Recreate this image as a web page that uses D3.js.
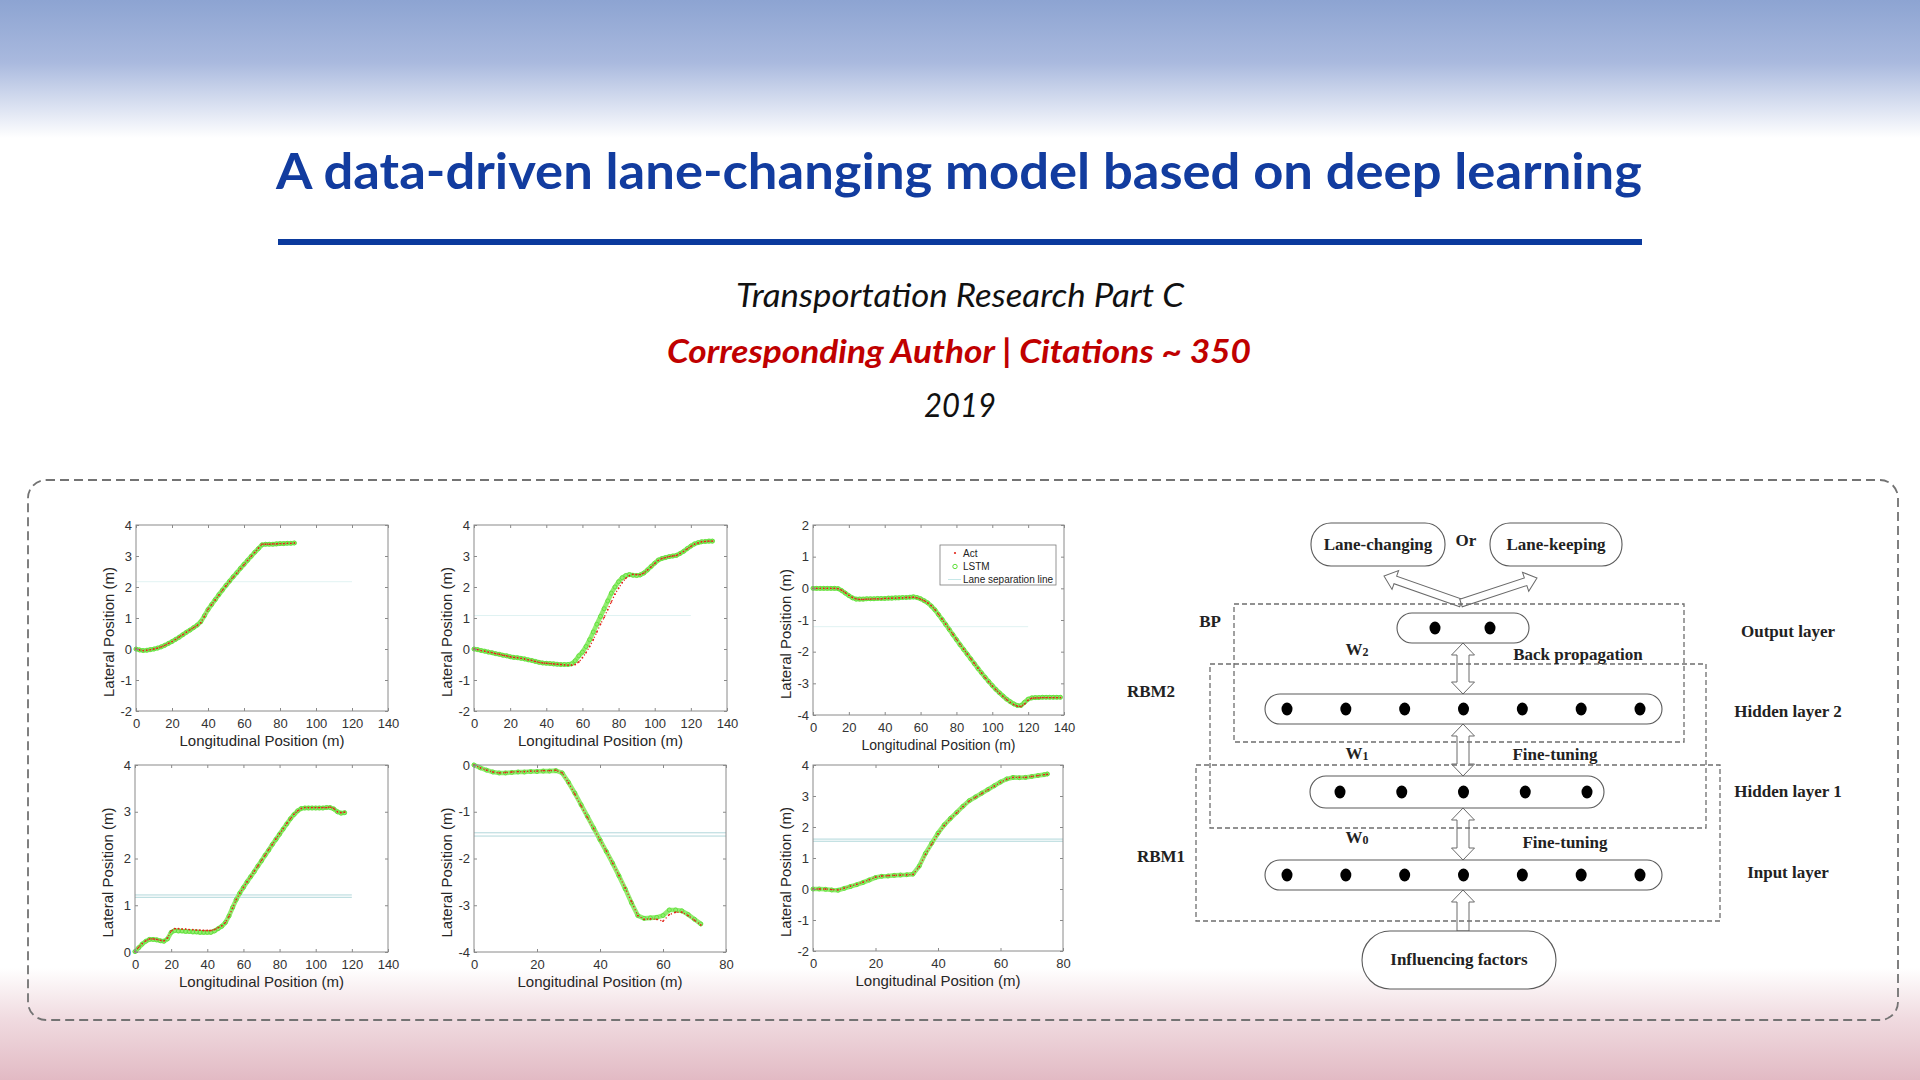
<!DOCTYPE html>
<html><head><meta charset="utf-8">
<script src="https://cdn.jsdelivr.net/npm/d3@7"></script>
<style>body{margin:0;background:#fff}svg{display:block}</style>
</head><body>
<svg id="c" width="1920" height="1080"></svg>
<script>
// ---------------- DATA ----------------
const titleText = "A data-driven lane-changing model based on deep learning";
const journalText = "Transportation Research Part C";
const roleText = "Corresponding Author | Citations ~ 350";
const yearText = "2019";

// Plot 1
const p1x = [0,2,4,6,8,10,12,14,16,18,20,22,24,26,28,30,32,34,36,38,40,42,44,46,48,50,52,54,56,58,60,62,64,66,68,70,72,74,76,78,80,82,84,86,88];
const p1act = [0,-0.03,-0.05,-0.04,-0.02,0,0.03,0.07,0.12,0.18,0.24,0.31,0.39,0.46,0.54,0.62,0.69,0.76,0.85,1.05,1.28,1.43,1.58,1.74,1.9,2.04,2.18,2.32,2.45,2.59,2.72,2.86,2.99,3.12,3.25,3.38,3.38,3.38,3.39,3.39,3.4,3.4,3.41,3.41,3.42];
const p1lstm = [0,-0.03,-0.05,-0.04,-0.02,0,0.03,0.07,0.12,0.18,0.24,0.31,0.38,0.46,0.54,0.61,0.69,0.77,0.88,1.07,1.27,1.43,1.59,1.75,1.9,2.05,2.19,2.33,2.46,2.6,2.73,2.86,2.99,3.12,3.24,3.36,3.38,3.38,3.38,3.39,3.4,3.4,3.41,3.41,3.42];
const p1lane = [2.17];

// Plot 2
const p2x = [0,2,4,6,8,10,12,14,16,18,20,22,24,26,28,30,32,34,36,38,40,42,44,46,48,50,52,54,56,58,60,62,64,66,68,70,72,74,76,78,80,82,84,86,88,90,92,94,96,98,100,102,104,106,108,110,112,114,116,118,120,122,124,126,128,130,132];
const p2act = [0,-0.02,-0.05,-0.07,-0.1,-0.12,-0.15,-0.17,-0.2,-0.22,-0.25,-0.27,-0.28,-0.3,-0.32,-0.35,-0.37,-0.4,-0.43,-0.45,-0.46,-0.47,-0.48,-0.49,-0.5,-0.51,-0.52,-0.52,-0.5,-0.42,-0.28,-0.12,0.08,0.3,0.55,0.8,1.02,1.27,1.52,1.77,1.96,2.14,2.28,2.37,2.41,2.4,2.4,2.45,2.55,2.65,2.76,2.86,2.92,2.95,2.98,3.0,3.02,3.08,3.15,3.23,3.31,3.38,3.42,3.46,3.47,3.48,3.48];
const p2lstm = [0,-0.02,-0.05,-0.07,-0.1,-0.12,-0.15,-0.17,-0.2,-0.22,-0.25,-0.27,-0.28,-0.3,-0.32,-0.35,-0.37,-0.4,-0.43,-0.45,-0.46,-0.47,-0.48,-0.49,-0.5,-0.5,-0.5,-0.48,-0.38,-0.22,-0.1,0.08,0.3,0.55,0.8,1.05,1.3,1.55,1.8,2.0,2.17,2.3,2.37,2.4,2.38,2.37,2.39,2.45,2.55,2.66,2.77,2.87,2.92,2.95,2.98,3.0,3.02,3.08,3.15,3.24,3.32,3.39,3.43,3.46,3.47,3.48,3.48];
const p2lane = [1.08];

// Plot 3
const p3x = [0,2,4,6,8,10,12,14,16,18,20,22,24,26,28,30,32,34,36,38,40,42,44,46,48,50,52,54,56,58,60,62,64,66,68,70,72,74,76,78,80,82,84,86,88,90,92,94,96,98,100,102,104,106,108,110,112,114,116,118,120,122,124,126,128,130,132,134,136,138];
const p3act = [0,0,0,0,0,0,0,-0.01,-0.06,-0.14,-0.22,-0.29,-0.33,-0.35,-0.35,-0.34,-0.34,-0.33,-0.33,-0.33,-0.32,-0.32,-0.31,-0.31,-0.3,-0.3,-0.29,-0.29,-0.28,-0.3,-0.34,-0.39,-0.46,-0.55,-0.67,-0.82,-0.97,-1.13,-1.29,-1.45,-1.61,-1.77,-1.92,-2.07,-2.22,-2.37,-2.52,-2.67,-2.82,-2.95,-3.08,-3.2,-3.31,-3.41,-3.51,-3.6,-3.67,-3.72,-3.73,-3.65,-3.53,-3.47,-3.46,-3.46,-3.45,-3.45,-3.45,-3.45,-3.45,-3.45];
const p3lstm = [0,0,0,0,0,0,0,-0.01,-0.07,-0.15,-0.23,-0.3,-0.34,-0.34,-0.34,-0.33,-0.33,-0.33,-0.32,-0.32,-0.32,-0.31,-0.31,-0.3,-0.3,-0.29,-0.29,-0.28,-0.27,-0.29,-0.33,-0.39,-0.46,-0.56,-0.68,-0.83,-0.98,-1.14,-1.3,-1.46,-1.62,-1.78,-1.93,-2.08,-2.23,-2.38,-2.53,-2.67,-2.81,-2.94,-3.07,-3.19,-3.3,-3.4,-3.5,-3.58,-3.65,-3.7,-3.7,-3.6,-3.5,-3.46,-3.45,-3.45,-3.44,-3.44,-3.44,-3.44,-3.44,-3.44];
const p3lane = [-1.21];

// Plot 4
const p4x = [0,2,4,6,8,10,12,14,16,18,20,22,24,26,28,30,32,34,36,38,40,42,44,46,48,50,52,54,56,58,60,62,64,66,68,70,72,74,76,78,80,82,84,86,88,90,92,94,96,98,100,102,104,106,108,110,112,114,116];
const p4act = [0.01,0.1,0.18,0.24,0.28,0.28,0.27,0.25,0.24,0.3,0.45,0.5,0.5,0.49,0.49,0.48,0.48,0.47,0.47,0.46,0.46,0.46,0.48,0.52,0.56,0.63,0.76,0.94,1.12,1.26,1.38,1.5,1.61,1.73,1.84,1.96,2.07,2.19,2.3,2.42,2.53,2.64,2.75,2.85,2.95,3.02,3.07,3.09,3.09,3.09,3.09,3.09,3.09,3.09,3.1,3.07,3.0,2.98,2.99];
const p4lstm = [0.01,0.09,0.17,0.23,0.27,0.27,0.26,0.24,0.23,0.28,0.42,0.46,0.45,0.45,0.44,0.44,0.43,0.43,0.42,0.42,0.42,0.42,0.45,0.5,0.55,0.63,0.77,0.95,1.12,1.26,1.38,1.5,1.61,1.72,1.84,1.95,2.07,2.18,2.3,2.41,2.52,2.63,2.74,2.85,2.94,3.02,3.07,3.08,3.08,3.08,3.08,3.08,3.08,3.09,3.09,3.06,3.0,2.97,2.98];
const p4lane = [1.22, 1.17];

// Plot 5
const p5x = [0,2,4,6,8,10,12,14,16,18,20,22,24,26,28,30,32,34,36,38,40,42,44,46,48,50,52,54,56,58,60,62,64,66,68,70,72];
const p5act = [0,-0.06,-0.11,-0.15,-0.17,-0.16,-0.15,-0.14,-0.14,-0.13,-0.13,-0.12,-0.12,-0.11,-0.17,-0.38,-0.62,-0.87,-1.12,-1.36,-1.6,-1.84,-2.1,-2.36,-2.63,-2.92,-3.22,-3.3,-3.29,-3.3,-3.34,-3.2,-3.15,-3.15,-3.22,-3.32,-3.42];
const p5lstm = [0,-0.06,-0.11,-0.15,-0.17,-0.17,-0.16,-0.15,-0.15,-0.14,-0.14,-0.13,-0.13,-0.12,-0.17,-0.37,-0.6,-0.85,-1.1,-1.35,-1.6,-1.85,-2.1,-2.37,-2.65,-2.95,-3.22,-3.28,-3.27,-3.26,-3.22,-3.1,-3.1,-3.12,-3.2,-3.3,-3.4];
const p5lane = [-1.45, -1.52];

// Plot 6
const p6x = [0,2,4,6,8,10,12,14,16,18,20,22,24,26,28,30,32,34,36,38,40,42,44,46,48,50,52,54,56,58,60,62,64,66,68,70,72,74,75];
const p6act = [0,0,0,-0.02,-0.03,0.03,0.09,0.15,0.22,0.3,0.38,0.42,0.43,0.44,0.45,0.46,0.47,0.72,1.12,1.45,1.78,2.05,2.27,2.46,2.66,2.84,2.96,3.08,3.2,3.32,3.44,3.54,3.6,3.6,3.6,3.63,3.66,3.69,3.7];
const p6lstm = [0,0,-0.01,-0.03,-0.04,0.02,0.08,0.14,0.21,0.29,0.37,0.41,0.42,0.44,0.45,0.46,0.48,0.74,1.15,1.48,1.8,2.07,2.28,2.47,2.67,2.85,2.97,3.09,3.21,3.33,3.45,3.55,3.6,3.59,3.6,3.63,3.66,3.69,3.71];
const p6lane = [1.61, 1.54];

const ticks140 = [0,20,40,60,80,100,120,140];
const ticks80 = [0,20,40,60,80];
const ticksYm2to4 = [-2,-1,0,1,2,3,4];
const ticksYm4to2 = [-4,-3,-2,-1,0,1,2];
const ticksY0to4 = [0,1,2,3,4];
const ticksYm4to0 = [-4,-3,-2,-1,0];

const legendLabels = ["Act", "LSTM", "Lane separation line"];
const xLabel = "Longitudinal Position (m)";
const yLabel = "Lateral Position (m)";

// Network diagram
const outputChoices = ["Lane-changing", "Lane-keeping"];
const layerNames = ["Output layer", "Hidden layer 2", "Hidden layer 1", "Input layer"];
const layerNodes = [2, 7, 5, 7];
const groupNames = ["BP", "RBM2", "RBM1"];
const weightNames = [["W","2"], ["W","1"], ["W","0"]];
const trainNames = ["Back propagation", "Fine-tuning", "Fine-tuning"];
const inputName = "Influencing factors";

// ---------------- DRAW ----------------
const svg = d3.select("#c");
const defs = svg.append("defs");
const gTop = defs.append("linearGradient").attr("id","gTop").attr("x1",0).attr("y1",0).attr("x2",0).attr("y2",1);
gTop.append("stop").attr("offset","0").attr("stop-color","#8da4d2");
gTop.append("stop").attr("offset","0.45").attr("stop-color","#a9b9de");
gTop.append("stop").attr("offset","0.8").attr("stop-color","#dfe5f3");
gTop.append("stop").attr("offset","1").attr("stop-color","#ffffff");
const gBot = defs.append("linearGradient").attr("id","gBot").attr("x1",0).attr("y1",0).attr("x2",0).attr("y2",1);
gBot.append("stop").attr("offset","0").attr("stop-color","#ffffff");
gBot.append("stop").attr("offset","0.45").attr("stop-color","#f0dbe0");
gBot.append("stop").attr("offset","1").attr("stop-color","#e2bac4");

svg.append("rect").attr("x",0).attr("y",0).attr("width",1920).attr("height",1080).attr("fill","#fff");
svg.append("rect").attr("x",0).attr("y",0).attr("width",1920).attr("height",138).attr("fill","url(#gTop)");
svg.append("rect").attr("x",0).attr("y",968).attr("width",1920).attr("height",112).attr("fill","url(#gBot)");

// Header texts
svg.append("text").attr("x",959).attr("y",189).attr("text-anchor","middle")
  .attr("font-family","Lato, 'Open Sans', sans-serif").attr("font-weight","bold").attr("font-size",50)
  .attr("fill","#123c9f").attr("textLength",1366).attr("lengthAdjust","spacingAndGlyphs").text(titleText);
svg.append("rect").attr("x",278).attr("y",239).attr("width",1364).attr("height",6).attr("fill","#0b3a9d");
svg.append("text").attr("x",960).attr("y",307).attr("text-anchor","middle")
  .attr("font-family","Lato, sans-serif").attr("font-style","italic").attr("font-size",32)
  .attr("fill","#111").attr("textLength",448).attr("lengthAdjust","spacingAndGlyphs").text(journalText);
svg.append("text").attr("x",959).attr("y",363).attr("text-anchor","middle")
  .attr("font-family","Lato, sans-serif").attr("font-style","italic").attr("font-weight","bold").attr("font-size",32)
  .attr("fill","#c00000").attr("textLength",584).attr("lengthAdjust","spacingAndGlyphs").text(roleText);
svg.append("text").attr("x",960).attr("y",417).attr("text-anchor","middle")
  .attr("font-family","Lato, sans-serif").attr("font-style","italic").attr("font-size",32)
  .attr("fill","#111").attr("textLength",72).attr("lengthAdjust","spacingAndGlyphs").text(yearText);

// Dashed frame
svg.append("rect").attr("x",28).attr("y",480).attr("width",1870).attr("height",540).attr("rx",18)
  .attr("fill","none").attr("stroke","#737373").attr("stroke-width",1.8).attr("stroke-dasharray","9 5");

// ---------- Plots ----------
const plots = [
  {x0:136,x1:388,y0:525,y1:711,xd:[0,140],yd:[-2,4],xt:ticks140,yt:ticksYm2to4,xs:p1x,act:p1act,lstm:p1lstm,lane:p1lane,laneEnd:120,xl:15,laneC:"#dcf1f1"},
  {x0:474,x1:727,y0:525,y1:711,xd:[0,140],yd:[-2,4],xt:ticks140,yt:ticksYm2to4,xs:p2x,act:p2act,lstm:p2lstm,lane:p2lane,laneEnd:120,xl:15,laneC:"#dcf1f1"},
  {x0:813,x1:1064,y0:525,y1:715,xd:[0,140],yd:[-4,2],xt:ticks140,yt:ticksYm4to2,xs:p3x,act:p3act,lstm:p3lstm,lane:p3lane,laneEnd:120,xl:14,legend:true,laneC:"#dcf1f1"},
  {x0:135,x1:388,y0:765,y1:952,xd:[0,140],yd:[0,4],xt:ticks140,yt:ticksY0to4,xs:p4x,act:p4act,lstm:p4lstm,lane:p4lane,laneEnd:120,xl:15,laneC:"#a8d3d6"},
  {x0:474,x1:726,y0:765,y1:952,xd:[0,80],yd:[-4,0],xt:ticks80,yt:ticksYm4to0,xs:p5x,act:p5act,lstm:p5lstm,lane:p5lane,laneEnd:80,xl:15,laneC:"#a8d3d6"},
  {x0:813,x1:1063,y0:765,y1:951,xd:[0,80],yd:[-2,4],xt:ticks80,yt:ticksYm2to4,xs:p6x,act:p6act,lstm:p6lstm,lane:p6lane,laneEnd:80,xl:15,laneC:"#a8d3d6"}
];

const tickFont = "'Liberation Sans', Arial, sans-serif";
const actColor = "#e2261b", lstmColor = "#5ee03a", lstmBand = "#92ec6f";

plots.forEach(cfg => {
  const g = svg.append("g");
  const x = d3.scaleLinear().domain(cfg.xd).range([cfg.x0, cfg.x1]);
  const y = d3.scaleLinear().domain(cfg.yd).range([cfg.y1, cfg.y0]);
  // lane separation lines
  cfg.lane.forEach(v => {
    g.append("line").attr("x1",x(0)).attr("x2",x(cfg.laneEnd)).attr("y1",y(v)).attr("y2",y(v))
      .attr("stroke",cfg.laneC).attr("stroke-width",0.9);
  });
  const lstmPts = cfg.xs.map((xv,i)=>[xv,cfg.lstm[i]]);
  const actPts = cfg.xs.map((xv,i)=>[xv,cfg.act[i]]);
  const line = d3.line().x(d=>x(d[0])).y(d=>y(d[1]));
  g.append("path").datum(lstmPts).attr("d",line).attr("fill","none")
    .attr("stroke",lstmBand).attr("stroke-width",4.6).attr("stroke-linejoin","round").attr("stroke-linecap","round");
  g.selectAll("circle.l").data(lstmPts).join("circle").attr("class","l")
    .attr("cx",d=>x(d[0])).attr("cy",d=>y(d[1])).attr("r",2)
    .attr("fill","none").attr("stroke",lstmColor).attr("stroke-width",0.9);
  g.append("path").datum(actPts).attr("d",line).attr("fill","none")
    .attr("stroke",actColor).attr("stroke-width",1.3).attr("stroke-dasharray","1.2 2.2");
  g.selectAll("circle.a").data(actPts).join("circle").attr("class","a")
    .attr("cx",d=>x(d[0])).attr("cy",d=>y(d[1])).attr("r",0.9).attr("fill",actColor);

  // axes with inward ticks
  const fmt = d => String(d);
  const ax = [
    g.append("g").attr("transform",`translate(0,${cfg.y1})`).call(d3.axisBottom(x).tickValues(cfg.xt).tickSizeInner(-3).tickSizeOuter(0).tickPadding(8).tickFormat(fmt)),
    g.append("g").attr("transform",`translate(${cfg.x0},0)`).call(d3.axisLeft(y).tickValues(cfg.yt).tickSizeInner(-3).tickSizeOuter(0).tickPadding(4).tickFormat(fmt)),
    g.append("g").attr("transform",`translate(0,${cfg.y0})`).call(d3.axisTop(x).tickValues(cfg.xt).tickSizeInner(-3).tickSizeOuter(0).tickFormat("")),
    g.append("g").attr("transform",`translate(${cfg.x1},0)`).call(d3.axisRight(y).tickValues(cfg.yt).tickSizeInner(-3).tickSizeOuter(0).tickFormat(""))
  ];
  ax.forEach(a => {
    a.select(".domain").remove();
    a.selectAll("line").attr("stroke","#8a8a8a");
    a.selectAll("text").attr("font-family",tickFont).attr("font-size",13).attr("fill","#333");
  });
  g.append("rect").attr("x",cfg.x0).attr("y",cfg.y0).attr("width",cfg.x1-cfg.x0).attr("height",cfg.y1-cfg.y0)
    .attr("fill","none").attr("stroke","#8a8a8a").attr("stroke-width",1);
  // axis labels
  g.append("text").attr("x",(cfg.x0+cfg.x1)/2).attr("y",cfg.y1+35).attr("text-anchor","middle")
    .attr("font-family",tickFont).attr("font-size",cfg.xl).attr("fill","#262626").text(xLabel);
  const yc = (cfg.y0+cfg.y1)/2 + 14;
  g.append("text").attr("transform",`translate(${cfg.x0-22},${yc}) rotate(-90)`).attr("text-anchor","middle")
    .attr("font-family",tickFont).attr("font-size",15).attr("fill","#262626").text(yLabel);

  if (cfg.legend) {
    const lg = g.append("g");
    lg.append("rect").attr("x",940).attr("y",545).attr("width",116).attr("height",40)
      .attr("fill","#fff").attr("stroke","#7a7a7a").attr("stroke-width",0.8);
    const ys = [553, 566.5, 579.5];
    lg.append("circle").attr("cx",955).attr("cy",ys[0]).attr("r",1.1).attr("fill",actColor);
    lg.append("circle").attr("cx",955).attr("cy",ys[1]).attr("r",2.2).attr("fill","none").attr("stroke",lstmColor).attr("stroke-width",1);
    lg.append("line").attr("x1",948).attr("x2",961).attr("y1",ys[2]).attr("y2",ys[2]).attr("stroke","#c6e8e8").attr("stroke-width",1);
    legendLabels.forEach((t,i) => {
      lg.append("text").attr("x",963).attr("y",ys[i]+3.5).attr("font-family",tickFont).attr("font-size",10)
        .attr("fill","#222").text(t);
    });
  }
});

// ---------- Network diagram ----------
const serif = "'Liberation Serif', 'Times New Roman', serif";
const dg = svg.append("g");
const stroke = "#5a5a5a";

function hollowArrow(x1,y1,x2,y2,dbl,sw,hw,hl){
  const L = Math.hypot(x2-x1,y2-y1), ang = Math.atan2(y2-y1,x2-x1)*180/Math.PI;
  let pts;
  if (dbl) pts = [[0,0],[hl,-hw],[hl,-sw],[L-hl,-sw],[L-hl,-hw],[L,0],[L-hl,hw],[L-hl,sw],[hl,sw],[hl,hw]];
  else pts = [[0,-sw],[L-hl,-sw],[L-hl,-hw],[L,0],[L-hl,hw],[L-hl,sw],[0,sw]];
  dg.append("path").attr("d", d3.line()(pts)+"Z")
    .attr("transform",`translate(${x1},${y1}) rotate(${ang})`)
    .attr("fill","#fff").attr("stroke","#6a6a6a").attr("stroke-width",1);
}

// arrows
hollowArrow(1461,603,1384,576,false,4,10,12);
hollowArrow(1461,603,1537,578,false,4,10,12);
hollowArrow(1463,643,1463,694,true,6,11.5,12);
hollowArrow(1463,724,1463,776,true,6,11.5,12);
hollowArrow(1463,808,1463,860,true,6,11.5,12);
hollowArrow(1463,931,1463,890,false,6,11.5,12);

// dashed group boxes
const dashBoxes = [[1234,604,1684,742],[1210,664,1706,828],[1196,765,1720,921]];
dashBoxes.forEach(b => dg.append("rect").attr("x",b[0]).attr("y",b[1]).attr("width",b[2]-b[0]).attr("height",b[3]-b[1])
  .attr("fill","none").attr("stroke","#6e6e6e").attr("stroke-width",1.3).attr("stroke-dasharray","5 3"));

// choice boxes
const choiceBoxes = [[1311,523,1445,566],[1490,523,1622,566]];
choiceBoxes.forEach((b,i) => {
  dg.append("rect").attr("x",b[0]).attr("y",b[1]).attr("width",b[2]-b[0]).attr("height",b[3]-b[1]).attr("rx",20).attr("ry",21)
    .attr("fill","#fff").attr("stroke",stroke).attr("stroke-width",1.1);
  dg.append("text").attr("x",(b[0]+b[2])/2).attr("y",550).attr("text-anchor","middle")
    .attr("font-family",serif).attr("font-weight","bold").attr("font-size",17).attr("fill","#222").text(outputChoices[i]);
});
dg.append("text").attr("x",1466).attr("y",546).attr("text-anchor","middle")
  .attr("font-family",serif).attr("font-weight","bold").attr("font-size",17).attr("fill","#222").text("Or");

// layers
const layerBoxes = [[1397,613,1529,643],[1265,694,1662,724],[1310,776,1604,808],[1265,860,1662,890]];
const nodeXs = [[1435,1490],[1287,1346,1405,1463,1522,1581,1640],[1340,1402,1463,1525,1587],[1287,1346,1405,1463,1522,1581,1640]];
const layerLabelY = [637,717,797,878];
layerBoxes.forEach((b,i) => {
  const h = b[3]-b[1];
  dg.append("rect").attr("x",b[0]).attr("y",b[1]).attr("width",b[2]-b[0]).attr("height",h).attr("rx",h/2)
    .attr("fill","#fff").attr("stroke",stroke).attr("stroke-width",1.1);
  const nx = d3.scalePoint().domain(d3.range(layerNodes[i])).range([nodeXs[i][0], nodeXs[i][nodeXs[i].length-1]]);
  dg.selectAll(null).data(d3.range(layerNodes[i])).join("ellipse")
    .attr("cx",d=>nx(d)).attr("cy",(b[1]+b[3])/2).attr("rx",5.5).attr("ry",6.5).attr("fill","#000");
  dg.append("text").attr("x",1788).attr("y",layerLabelY[i]).attr("text-anchor","middle")
    .attr("font-family",serif).attr("font-weight","bold").attr("font-size",17).attr("fill","#222").text(layerNames[i]);
});

// group labels
const groupPos = [[1210,627],[1151,697],[1161,862]];
groupNames.forEach((t,i) => dg.append("text").attr("x",groupPos[i][0]).attr("y",groupPos[i][1]).attr("text-anchor","middle")
  .attr("font-family",serif).attr("font-weight","bold").attr("font-size",17).attr("fill","#222").text(t));

// weights
const wY = [655,759,843];
weightNames.forEach((w,i) => {
  const t = dg.append("text").attr("x",1357).attr("y",wY[i]).attr("text-anchor","middle")
    .attr("font-family",serif).attr("font-weight","bold").attr("font-size",17).attr("fill","#222");
  t.append("tspan").text(w[0]);
  t.append("tspan").attr("font-size",12).attr("dy",1).text(w[1]);
});
// training labels
const trainPos = [[1578,660],[1555,760],[1565,848]];
trainNames.forEach((t,i) => dg.append("text").attr("x",trainPos[i][0]).attr("y",trainPos[i][1]).attr("text-anchor","middle")
  .attr("font-family",serif).attr("font-weight","bold").attr("font-size",17).attr("fill","#222").text(t));

// influencing factors
dg.append("rect").attr("x",1362).attr("y",931).attr("width",194).attr("height",58).attr("rx",28).attr("ry",29)
  .attr("fill","#fff").attr("stroke",stroke).attr("stroke-width",1.1);
dg.append("text").attr("x",1459).attr("y",965).attr("text-anchor","middle")
  .attr("font-family",serif).attr("font-weight","bold").attr("font-size",17).attr("fill","#222").text(inputName);
</script>
</body></html>
